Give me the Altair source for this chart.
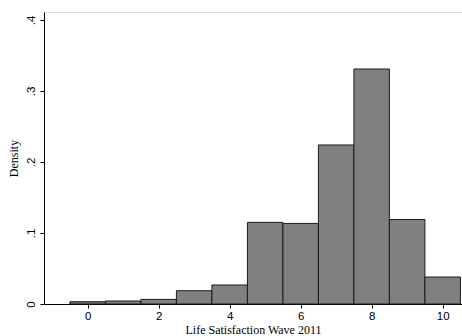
import altair as alt
import pandas as pd

scores = [0, 1, 2, 3, 4, 5, 6, 7, 8, 9, 10]
density = [0.0032, 0.0042, 0.0065, 0.0187, 0.0268, 0.115, 0.1135, 0.224, 0.331, 0.119, 0.038]
x_ticks = [0, 2, 4, 6, 8, 10]
y_ticks = [0, 0.1, 0.2, 0.3, 0.4]

df = pd.DataFrame({
    "start": [s - 0.5 for s in scores],
    "end": [s + 0.5 for s in scores],
    "density": density,
})

chart = alt.Chart(df).mark_rect(
    fill="#808080", stroke="#1a1a1a", strokeWidth=1
).encode(
    x=alt.X("start:Q",
            scale=alt.Scale(domain=[-1.23, 10.545], nice=False, zero=False),
            axis=alt.Axis(values=x_ticks, title="Life Satisfaction Wave 2011",
                          grid=False, tickSize=4, domainColor="black", tickColor="black",
                          labelFont="Liberation Sans", labelFontSize=11.5, labelColor="black",
                          labelPadding=2, labelFlush=False,
                          titleFont="Liberation Serif", titleFontSize=12, titleFontWeight="normal",
                          titleColor="black", titlePadding=3)),
    x2="end:Q",
    y=alt.Y("density:Q",
            scale=alt.Scale(domain=[0, 0.4113], nice=False),
            axis=alt.Axis(values=y_ticks, title="Density",
                          labelExpr="datum.value == 0 ? '0' : '.' + format(datum.value*10, 'd')",
                          grid=False, tickSize=4, domainColor="black", tickColor="black",
                          labelAngle=270, labelAlign="center", labelBaseline="bottom",
                          labelFont="Liberation Sans", labelFontSize=11.5, labelColor="black",
                          labelPadding=4, labelFlush=False,
                          titleFont="Liberation Serif", titleFontSize=12, titleFontWeight="normal",
                          titleColor="black", titlePadding=5)),
    y2=alt.datum(0),
).properties(
    width=418,
    height=292,
    autosize=alt.AutoSizeParams(type="none"),
    padding={"left": 44, "top": 12, "right": 0, "bottom": 32},
).configure_view(
    stroke="black", strokeWidth=1
).configure(background="white")

chart.save("out.html", embed_options={"renderer": "svg", "actions": False})
